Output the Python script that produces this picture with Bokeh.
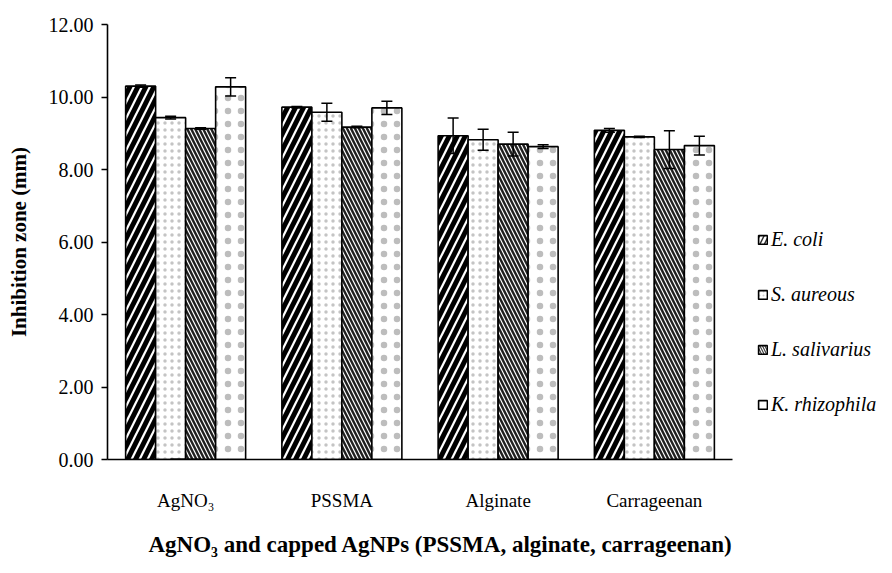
from bokeh.plotting import figure
from bokeh.models import (ColumnDataSource, FactorRange, Whisker, TeeHead, Legend,
                          LegendItem, FixedTicker, NumeralTickFormatter, Title)
from bokeh.transform import dodge
from bokeh.embed import file_html
from bokeh.resources import INLINE

# Inhibition zone diameters (mm), mean and standard deviation
categories = ["AgNO₃", "PSSMA", "Alginate", "Carrageenan"]
species = ["E. coli", "S. aureous", "L. salivarius", "K. rhizophila"]

e_coli = [10.30, 9.72, 8.93, 9.08]
e_coli_err = [0.03, 0.02, 0.49, 0.05]
s_aureous = [9.43, 9.58, 8.82, 8.90]
s_aureous_err = [0.04, 0.25, 0.29, 0.02]
l_salivarius = [9.13, 9.17, 8.70, 8.55]
l_salivarius_err = [0.02, 0.02, 0.33, 0.52]
k_rhizophila = [10.28, 9.70, 8.63, 8.66]
k_rhizophila_err = [0.25, 0.18, 0.05, 0.26]

y_ticks = [0, 2, 4, 6, 8, 10, 12]

bar_styles = [
    dict(hatch_pattern="/", hatch_scale=16, hatch_weight=5, hatch_color="black"),
    dict(hatch_pattern=".", hatch_scale=7, hatch_weight=1.5, hatch_color="#c4c4c4"),
    dict(hatch_pattern="\\", hatch_scale=8, hatch_weight=2.4, hatch_color="#202020"),
    dict(hatch_pattern=".", hatch_scale=13, hatch_weight=1.1, hatch_color="#bdbdbd"),
]
# small swatches in the key use a finer version of each fill
key_styles = [
    dict(hatch_pattern="/", hatch_scale=9, hatch_weight=1.5, hatch_color="#303030"),
    dict(hatch_pattern=".", hatch_scale=4, hatch_weight=0.7, hatch_color="#d0d0d0"),
    dict(hatch_pattern="\\", hatch_scale=5, hatch_weight=1.2, hatch_color="#404040"),
    dict(hatch_pattern=" "),
]
values = [e_coli, s_aureous, l_salivarius, k_rhizophila]
errors = [e_coli_err, s_aureous_err, l_salivarius_err, k_rhizophila_err]
offsets = [-0.288, -0.096, 0.096, 0.288]
bar_width = 0.192

FONT = "Liberation Serif"

p = figure(x_range=FactorRange(factors=categories, range_padding=0), y_range=(0, 12),
           width=892, height=573, output_backend="svg", toolbar_location=None,
           frame_width=625, frame_height=435,
           min_border_left=107, min_border_right=160, min_border_top=24, min_border_bottom=0)
p.outline_line_color = None
p.xgrid.grid_line_color = None
p.ygrid.grid_line_color = None

items = []
for vals, errs, style, kstyle, off, name in zip(values, errors, bar_styles, key_styles, offsets, species):
    src = ColumnDataSource(dict(
        cat=categories, val=vals,
        upper=[v + e for v, e in zip(vals, errs)],
        lower=[v - e for v, e in zip(vals, errs)],
    ))
    p.vbar(x=dodge("cat", off, range=p.x_range), top="val", width=bar_width, source=src,
           fill_color="white", line_color="black", line_width=1.6, **style)
    # key swatch renderer: a single bar placed below the visible range
    key = p.vbar(x=[categories[0]], top=[-1], bottom=[-2], width=bar_width,
                 fill_color="white", line_color="black", line_width=1.6, **kstyle)
    items.append(LegendItem(label=name, renderers=[key], index=0))
    w = Whisker(base=dodge("cat", off, range=p.x_range), upper="upper", lower="lower", source=src,
                level="annotation", line_color="black", line_width=1.5,
                upper_head=TeeHead(size=11, line_color="black", line_width=1.5),
                lower_head=TeeHead(size=11, line_color="black", line_width=1.5))
    p.add_layout(w)

# y axis
ya = p.yaxis[0]
ya.ticker = FixedTicker(ticks=y_ticks)
ya.formatter = NumeralTickFormatter(format="0.00")
ya.axis_label = "Inhibition zone (mm)"
ya.axis_label_text_font = FONT
ya.axis_label_text_font_style = "bold"
ya.axis_label_text_font_size = "21px"
ya.axis_label_text_color = "black"
ya.axis_label_standoff = 15
ya.major_label_text_font = FONT
ya.major_label_text_font_size = "20px"
ya.major_label_text_color = "black"
ya.major_tick_out = 6
ya.major_tick_in = 0
ya.minor_tick_line_color = None
ya.axis_line_width = 1.6
ya.major_tick_line_width = 1.6
ya.major_label_standoff = 8

# x axis
xa = p.xaxis[0]
xa.major_tick_line_color = None
xa.minor_tick_line_color = None
xa.axis_line_width = 1.6
xa.major_label_text_font = FONT
xa.major_label_text_font_size = "19px"
xa.major_label_text_color = "black"
xa.major_label_standoff = 24

t = Title(text="AgNO₃ and capped AgNPs (PSSMA, alginate, carrageenan)", align="left", offset=41,
          text_font=FONT, text_font_style="bold", text_font_size="23px", text_color="black",
          standoff=32)
p.add_layout(t, "below")

legend = Legend(items=items, location=(25, 43), orientation="vertical",
                label_text_font=FONT, label_text_font_style="italic", label_text_font_size="20px",
                label_text_color="black",
                glyph_width=11, glyph_height=11, label_height=22, spacing=32,
                label_standoff=3, padding=5, margin=0,
                border_line_color=None, background_fill_alpha=0)
p.add_layout(legend, "right")

open("out.html", "w").write(file_html(p, INLINE))
